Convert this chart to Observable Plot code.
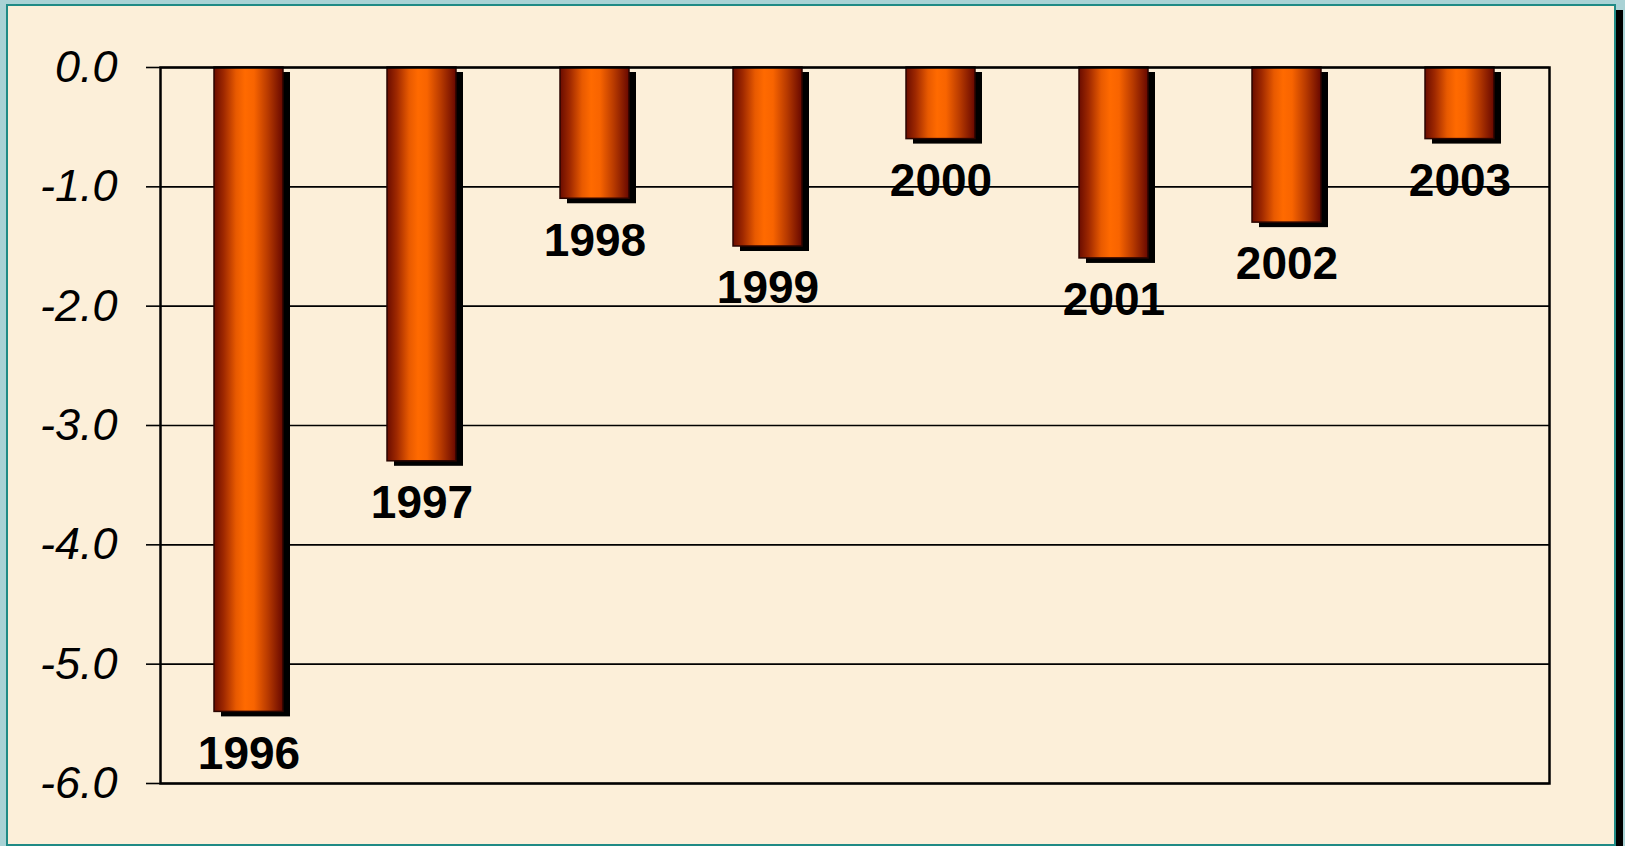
<!DOCTYPE html>
<html>
<head>
<meta charset="utf-8">
<script src="https://cdn.jsdelivr.net/npm/d3@7"></script>
<script src="https://cdn.jsdelivr.net/npm/@observablehq/plot@0.6"></script>
<style>
  html, body { margin: 0; padding: 0; }
  body { width: 1625px; height: 846px; overflow: hidden; background: #a9d2d5; position: relative; font-family: "Liberation Sans", Arial, sans-serif; }
  #panel { position: absolute; left: 6px; top: 4px; width: 1606px; height: 838px; background: #fcefd9; border: 2px solid #1f8a85; box-shadow: 7px 6px 0 #000; }
  #chart { position: absolute; left: 0; top: 0; }
</style>
</head>
<body>
<div id="panel"></div>
<div id="chart"></div>
<script>
const years = ["1996", "1997", "1998", "1999", "2000", "2001", "2002", "2003"];
const values = [-5.4, -3.3, -1.1, -1.5, -0.6, -1.6, -1.3, -0.6];
const yTicks = [0, -1, -2, -3, -4, -5, -6];

const data = years.map((year, i) => ({year, value: values[i]}));
const font = "'Liberation Sans', Arial, sans-serif";

const plot = Plot.plot({
  width: 1625,
  height: 846,
  marginLeft: 160,
  marginRight: 76,
  marginTop: 67,
  marginBottom: 63,
  style: {background: "transparent", fontFamily: font},
  x: {domain: years, paddingInner: 0.6, paddingOuter: 0.3, axis: null},
  y: {domain: [-6, 0]},
  marks: [
    Plot.ruleY(yTicks, {stroke: "black", strokeWidth: 1.6}),
    Plot.barY(data, {x: "year", y: "value", fill: "black", dx: 7, dy: 5}),
    Plot.barY(data, {x: "year", y: "value", fill: "url(#barGrad)", stroke: "#2a0500", strokeWidth: 1.5}),
    Plot.text(data, {x: "year", y: "value", text: "year", dy: 42, fontSize: 46, fontWeight: "bold", fill: "black", fontFamily: font}),
    Plot.axisY({ticks: yTicks, tickFormat: d => d.toFixed(1), tickSize: 14, tickPadding: 29, fontSize: 45, fontStyle: "italic", fontFamily: font, stroke: "black", strokeWidth: 1.6, fill: "black", label: null}),
    Plot.frame({stroke: "black", strokeWidth: 2.5})
  ]
});

const svg = d3.select(plot);
const defs = svg.insert("defs", ":first-child");
const grad = defs.append("linearGradient").attr("id", "barGrad").attr("x1", "0").attr("x2", "1").attr("y1", "0").attr("y2", "0");
[["0%", "#6a0c00"], ["14%", "#9e2800"], ["32%", "#e85a00"], ["45%", "#ff6a00"], ["58%", "#f86400"], ["78%", "#b83a00"], ["100%", "#680800"]]
  .forEach(([o, c]) => grad.append("stop").attr("offset", o).attr("stop-color", c));

document.getElementById("chart").appendChild(plot);
</script>
</body>
</html>
